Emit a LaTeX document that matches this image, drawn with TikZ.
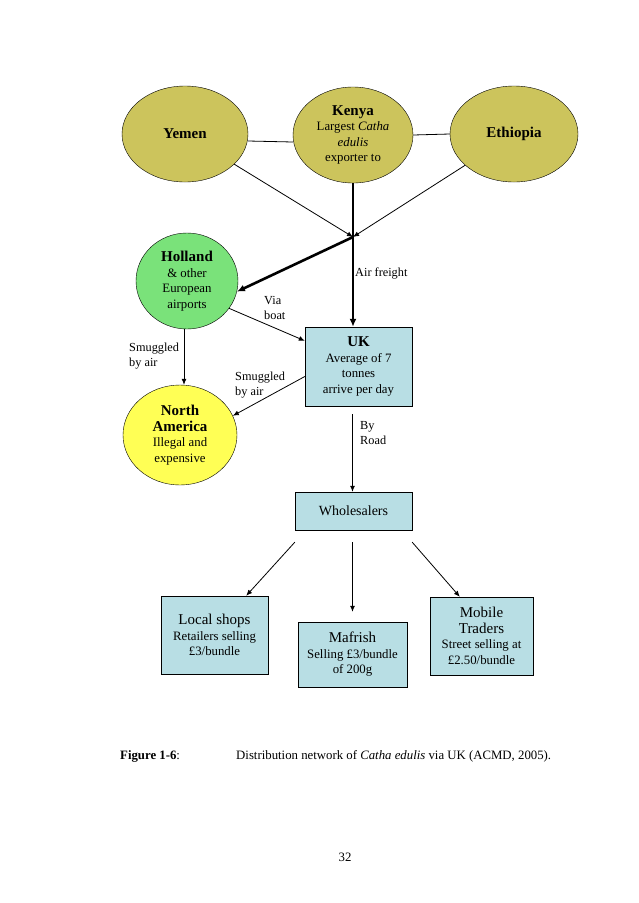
\documentclass[tikz,border=0pt]{standalone}
\usepackage{fontspec}
\setmainfont{Liberation Serif}
\usetikzlibrary{shapes.geometric,arrows.meta,calc}

\definecolor{countryfill}{RGB}{204,196,92}
\definecolor{hubfill}{RGB}{122,226,122}
\definecolor{usfill}{RGB}{255,255,85}
\definecolor{boxfill}{RGB}{184,222,228}

\newcommand{\ttl}[1]{{\fontsize{15}{17}\selectfont\bfseries #1}}
\newcommand{\btl}[1]{{\fontsize{15}{17}\selectfont #1}}

\begin{document}
\begin{tikzpicture}[x=1pt,y=-1pt,
    country/.style={ellipse,draw,fill=countryfill,inner sep=0pt,align=center,
        font=\fontsize{12.8}{15.5}\selectfont},
    place/.style={ellipse,draw,inner sep=0pt,align=center,
        font=\fontsize{12.8}{15.5}\selectfont},
    stage/.style={rectangle,draw,fill=boxfill,inner sep=0pt,align=center,
        font=\fontsize{12.8}{15.5}\selectfont},
    lbl/.style={anchor=west,align=left,inner sep=0pt,
        font=\fontsize{12.3}{15}\selectfont},
    arr/.style={line width=0.8pt,-{Latex[length=6pt,width=5pt]}},
    heavy/.style={line width=2.6pt},
    heavyarr/.style={line width=2.6pt,-{Latex[length=8pt,width=7pt]}}]

    \useasboundingbox (0,0) rectangle (638,903);

    % Producers
    \node[country,minimum width=126pt,minimum height=96pt] (yemen) at (185,134) {\ttl{Yemen}};
    \node[country,minimum width=120pt,minimum height=96pt] (kenya) at (353,135)
        {\ttl{Kenya}\\Largest \textit{Catha}\\\textit{edulis}\\exporter to};
    \node[country,minimum width=128pt,minimum height=96pt] (ethiopia) at (514,134) {\ttl{Ethiopia}};

    % Transit and destinations
    \node[place,fill=hubfill,minimum width=102pt,minimum height=96pt] (holland) at (187,281)
        {\ttl{Holland}\\\& other\\European\\airports};
    \node[place,fill=usfill,minimum width=114pt,minimum height=100pt] (namerica) at (180,435)
        {\ttl{North}\\\ttl{America}\\Illegal and\\expensive};
    \node[stage,minimum width=107pt,minimum height=79pt] (uk) at (358.5,366.5)
        {\ttl{UK}\\Average of 7\\tonnes\\arrive per day};

    % Selling chain
    \node[stage,minimum width=117pt,minimum height=38pt,font=\fontsize{14}{16}\selectfont] (whole) at (353.5,511) {Wholesalers};
    \node[stage,minimum width=107pt,minimum height=78pt] (local) at (214.5,635)
        {\btl{Local shops}\\Retailers selling\\£3/bundle};
    \node[stage,minimum width=109pt,minimum height=65pt] (mafrish) at (352.5,654.5)
        {\btl{Mafrish}\\Selling £3/bundle\\of 200g};
    \node[stage,minimum width=103pt,minimum height=78pt] (mobile) at (481.5,636)
        {\btl{Mobile}\\\btl{Traders}\\Street selling at\\£2.50/bundle};

    % Connectors
    \coordinate (jn) at (353,237);
    \draw[line width=0.8pt] ([yshift=-7pt]yemen.east) -- ([yshift=-7pt]kenya.west);
    \draw[line width=0.8pt] (kenya.east) -- (ethiopia.west);
    \draw[arr] (yemen) -- (jn);
    \draw[arr] (ethiopia) -- (jn);
    \draw[heavy] (kenya.south) -- (jn);
    \draw[heavyarr] (jn) -- (jn |- uk.north);
    \draw[heavyarr] (jn) -- (holland.-12);
    \draw[arr] (holland.-33) -- ([yshift=-14pt]uk.north west);
    \draw[arr] ([xshift=-3pt]holland.south) -- ([xshift=4pt]namerica.north);
    \draw[arr] ([yshift=-10pt]uk.west) -- (namerica.20);
    \coordinate (road) at ($(uk.south -| whole.north)+(-1,8)$);
    \draw[arr] (road) -- ([xshift=-1pt]whole.north);
    \draw[arr] ([yshift=-12pt]whole.south west) -- ([xshift=-22pt]local.north east);
    \draw[arr] ([xshift=-1pt,yshift=-12pt]whole.south) -- ([yshift=10pt]mafrish.north);
    \draw[arr] ([yshift=-12pt]whole.south east) -- ([xshift=30pt]mobile.north west);

    % Route labels
    \node[lbl] (lair) at (355,273) {Air freight};
    \node[lbl] (lboat) at (264,308) {Via\\boat};
    \node[lbl] (lsmug1) at (129,356) {Smuggled\\by air};
    \node[lbl] (lsmug2) at (235,385) {Smuggled\\by air};
    \node[lbl] (lroad) at (360,433) {By\\Road};

    % Caption and page number
    \node[lbl,font=\fontsize{12.8}{15}\selectfont] (fignum) at (120,756) {\textbf{Figure 1-6}:};
    \node[lbl,font=\fontsize{12.8}{15}\selectfont] (figtext) at (236,756)
        {Distribution network of \textit{Catha edulis} via UK (ACMD, 2005).};
    \node[font=\fontsize{12.8}{15}\selectfont] (pagenum) at (345,857) {32};

\end{tikzpicture}
\end{document}
